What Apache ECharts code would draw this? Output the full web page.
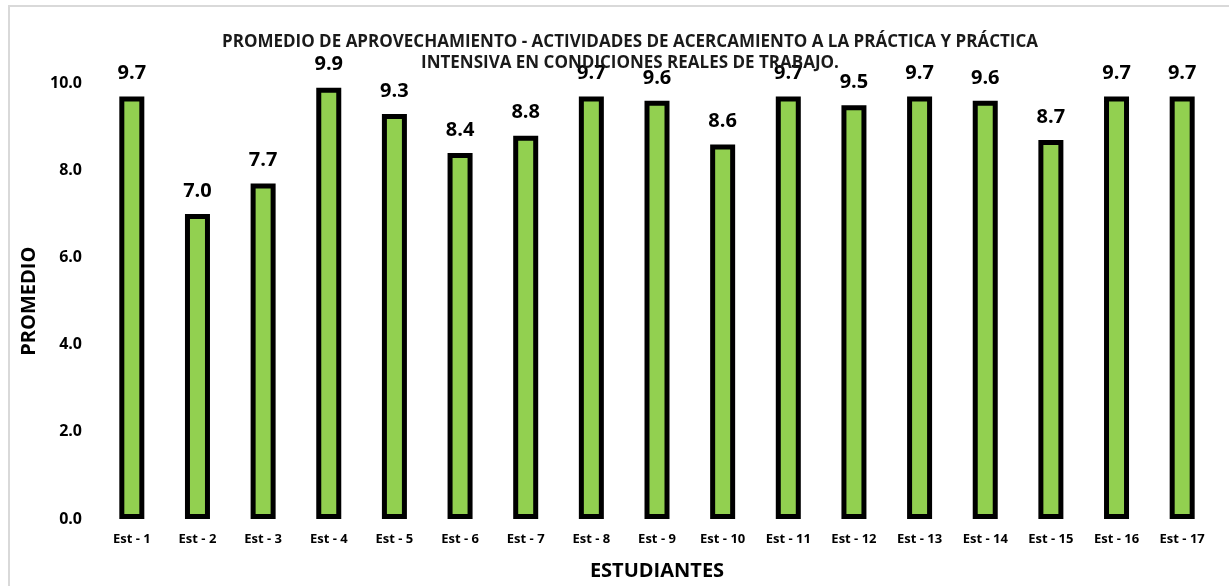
<!DOCTYPE html>
<html>
<head>
<meta charset="utf-8">
<script src="https://cdn.jsdelivr.net/npm/echarts@6/dist/echarts.min.js"></script>
<style>
  html, body { margin: 0; padding: 0; background: #fff; }
  #chart { width: 1229px; height: 586px; }
</style>
</head>
<body>
<div id="chart"></div>
<script>
// datos del gráfico
var estudiantes = ['Est - 1', 'Est - 2', 'Est - 3', 'Est - 4', 'Est - 5', 'Est - 6', 'Est - 7', 'Est - 8', 'Est - 9',
  'Est - 10', 'Est - 11', 'Est - 12', 'Est - 13', 'Est - 14', 'Est - 15', 'Est - 16', 'Est - 17'];
var promedios = [9.7, 7.0, 7.7, 9.9, 9.3, 8.4, 8.8, 9.7, 9.6, 8.6, 9.7, 9.5, 9.7, 9.6, 8.7, 9.7, 9.7];
var yTicks = { min: 0, max: 10, interval: 2 };

var font = '"Open Sans", "Liberation Sans", sans-serif';
var myChart = echarts.init(document.getElementById('chart'));

var option = {
  backgroundColor: '#fff',
  textStyle: { fontFamily: font },
  title: {
    text: 'PROMEDIO DE APROVECHAMIENTO - ACTIVIDADES DE ACERCAMIENTO A LA PRÁCTICA Y PRÁCTICA\nINTENSIVA EN CONDICIONES REALES DE TRABAJO.',
    left: 625,
    top: 27,
    textAlign: 'center',
    textStyle: { fontFamily: font, fontSize: 17, fontWeight: 'bold', color: '#1a1a1a', lineHeight: 21 }
  },
  graphic: [{
    type: 'rect',
    shape: { x: 9, y: 6, width: 1300, height: 700 },
    style: { fill: 'none', stroke: '#d9d9d9', lineWidth: 2 },
    silent: true
  }],
  grid: { left: 99, right: 14, top: 83.4, bottom: 67 },
  xAxis: {
    type: 'category',
    data: estudiantes,
    name: 'ESTUDIANTES',
    nameLocation: 'middle',
    nameGap: 42,
    nameTextStyle: { fontFamily: font, fontSize: 20, fontWeight: 'bold', color: '#000' },
    axisLine: { show: false },
    axisTick: { show: false },
    axisLabel: { margin: 14, fontFamily: font, fontSize: 13, fontWeight: 'bold', color: '#000', interval: 0 }
  },
  yAxis: {
    type: 'value',
    min: yTicks.min,
    max: yTicks.max,
    interval: yTicks.interval,
    name: 'PROMEDIO',
    nameLocation: 'middle',
    nameRotate: 90,
    nameGap: 69,
    nameTextStyle: { fontFamily: font, fontSize: 20, fontWeight: 'bold', color: '#000', verticalAlign: 'middle' },
    splitLine: { show: false },
    axisLine: { show: false },
    axisTick: { show: false },
    axisLabel: {
      margin: 17, fontFamily: font, fontSize: 16, fontWeight: 'bold', color: '#000',
      formatter: function (v) { return v.toFixed(1); }
    }
  },
  series: [{
    type: 'bar',
    data: promedios,
    barWidth: 25,
    itemStyle: { color: '#92d050', borderColor: '#000', borderWidth: 5 },
    label: {
      show: true,
      position: 'top',
      distance: 13,
      fontFamily: font,
      fontSize: 20,
      fontWeight: 'bold',
      color: '#000',
      formatter: function (p) { return p.value.toFixed(1); }
    }
  }]
};

myChart.setOption(option);
window.addEventListener('resize', function () {
  myChart.resize();
});
</script>
</body>
</html>
